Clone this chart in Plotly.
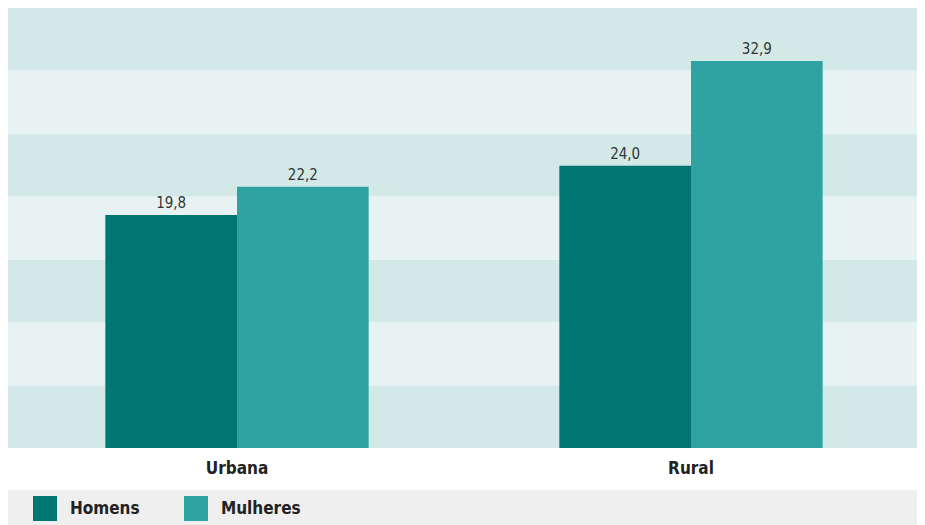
import plotly.graph_objects as go

# Dados
categorias = ["Urbana", "Rural"]
homens = [19.8, 24.0]
mulheres = [22.2, 32.9]
series = [("Homens", homens, "#007672"), ("Mulheres", mulheres, "#2ea3a1")]

fonte = "DejaVu Sans Condensed, Liberation Sans Narrow, Roboto, sans-serif"

W, H = 917, 517
ML, MR, MT, MB = 2, 7, 0, 77
PW, PH = W - ML - MR, H - MT - MB


def px(x):
    return (x - ML) / PW


def py(y):
    return (PH - y) / PH


fig = go.Figure()

for nome, valores, cor in series:
    fig.add_trace(go.Bar(
        x=categorias,
        y=valores,
        name=nome,
        marker_color=cor,
        marker_line_width=0,
        texttemplate="%{y:.1f}",
        textposition="outside",
        textfont=dict(family=fonte, size=15, color="#333333"),
        cliponaxis=False,
    ))

# Faixas horizontais alternadas no fundo
n_faixas = 7
for i in range(n_faixas):
    fig.add_shape(
        type="rect", xref="paper", yref="paper",
        x0=px(0), x1=px(W), y0=i / n_faixas, y1=(i + 1) / n_faixas,
        fillcolor="#d2e9e7" if i % 2 == 0 else "#e7f3f3",
        line_width=0, layer="below",
    )

# Legenda manual na barra cinzenta de baixo
fig.add_shape(type="rect", xref="paper", yref="paper",
              x0=px(0), x1=px(W), y0=py(H), y1=py(482),
              fillcolor="#efefef", line_width=0, layer="below")

legenda_x = [25, 176]  # px na figura
for (nome, valores, cor), lx in zip(series, legenda_x):
    fig.add_shape(type="rect", xref="paper", yref="paper",
                  x0=px(lx), x1=px(lx + 24),
                  y0=py(513), y1=py(488),
                  fillcolor=cor, line_width=0)
    fig.add_annotation(
        x=px(lx + 35), y=py(500), xref="paper", yref="paper",
        text="<b>" + nome + "</b>", showarrow=False,
        xanchor="left", yanchor="middle",
        font=dict(family=fonte, size=17, color="#222222"),
    )

fig.update_layout(
    width=W, height=H,
    margin=dict(l=ML, r=MR, t=MT, b=MB),
    barmode="group",
    bargap=0.42,
    bargroupgap=0,
    showlegend=False,
    separators=",.",
    plot_bgcolor="white",
    paper_bgcolor="white",
)

fig.update_xaxes(
    tickfont=dict(family=fonte, size=17, color="#222222"),
    tickprefix="<b>", ticksuffix="</b>",
    showline=False, ticks="", ticklabelstandoff=8,
)
fig.update_yaxes(range=[0, 37.4], visible=False, showgrid=False)

fig.write_html("out.html")
